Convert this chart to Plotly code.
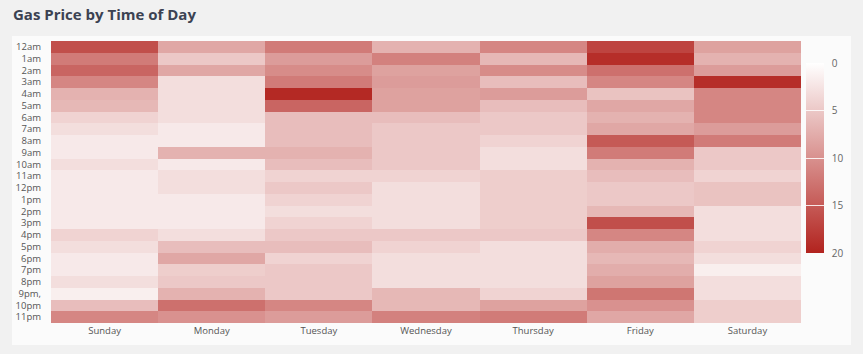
import plotly.graph_objects as go

days = ["Sunday", "Monday", "Tuesday", "Wednesday", "Thursday", "Friday", "Saturday"]
hours = ["12am", "1am", "2am", "3am", "4am", "5am", "6am", "7am", "8am", "9am", "10am", "11am",
         "12pm", "1pm", "2pm", "3pm", "4pm", "5pm", "6pm", "7pm", "8pm", "9pm,", "10pm", "11pm"]

sunday    = [16, 12, 14, 11, 7, 6.5, 4, 3, 2, 2, 3, 2, 2, 2, 2, 2, 4, 3, 2, 2, 3, 1.5, 6, 11]
monday    = [8, 5, 8, 3, 3, 3, 3, 2, 2, 7, 2, 3, 3, 2, 2, 2, 3, 6, 8, 4.5, 5, 7, 13, 10]
tuesday   = [12, 9, 10.5, 12, 19.5, 14, 6, 6, 6, 7, 6, 4, 5, 4, 3, 4, 5, 6, 4, 5, 5, 5, 11, 9]
wednesday = [7, 11.5, 8.5, 9, 8.5, 8.5, 6, 5, 5, 5, 5, 4, 3, 3, 3, 3, 5, 4, 3, 3, 3, 6.5, 6.5, 11.5]
thursday  = [11, 6.5, 10.5, 6, 9, 6, 5, 5, 4, 3, 3, 4.5, 4.5, 4.5, 4.5, 4.5, 5, 3, 3, 3, 3, 4, 8.5, 12]
friday    = [17, 19, 13, 11, 5.5, 8, 7, 8, 15, 12, 7, 6, 5, 5, 6.5, 16, 11, 7.5, 6.5, 7.5, 8.5, 12.5, 10, 8]
saturday  = [8.5, 7, 9, 19, 11, 11, 11, 9, 12, 5, 5, 4, 5.5, 5.5, 3, 3, 3, 4, 3, 1.5, 3, 3, 4.5, 4.5]

columns = [sunday, monday, tuesday, wednesday, thursday, friday, saturday]
# z[row=hour][col=day]
values = [[col[i] for col in columns] for i in range(len(hours))]
# negate so that 0 appears at the top of the colour bar
z_neg = [[-v for v in row] for row in values]

cb_ticks = [0, 5, 10, 15, 20]

W, H = 863, 354
L, R, T, B = 51, 62, 41, 31
pw, ph = W - L - R, H - T - B

def px_x(x):
    return (x - L) / pw

def px_y(y):
    return (H - B - y) / ph

fig = go.Figure(go.Heatmap(
    z=z_neg,
    x=days,
    y=hours,
    customdata=values,
    hovertemplate="%{x} %{y}: %{customdata}<extra></extra>",
    zmin=-20, zmax=0,
    colorscale=[[0, "#b2231e"], [1, "#ffffff"]],
    colorbar=dict(
        tickvals=[-t for t in cb_ticks],
        ticktext=["\u00a0\u00a0" + str(t) for t in cb_ticks],
        ticks="inside", ticklen=18, tickwidth=1, tickcolor="rgba(255,255,255,0.85)",
        thickness=18, thicknessmode="pixels",
        len=190 / ph, lenmode="fraction",
        x=px_x(806), xanchor="left", xpad=0,
        y=px_y(158), yanchor="middle", ypad=0,
        outlinewidth=0,
        tickfont=dict(family="Open Sans", size=10, color="#666666"),
    ),
))

fig.update_layout(
    width=W, height=H,
    margin=dict(l=L, r=R, t=T, b=B, pad=0, autoexpand=False),
    paper_bgcolor="#f1f1f1",
    plot_bgcolor="#ffffff",
    title=dict(text="<b>Gas Price by Time of Day</b>", x=13 / W, xanchor="left",
               y=1 - 15 / H, yanchor="middle",
               font=dict(family="Open Sans", size=15, color="#3b4252")),
    shapes=[dict(type="rect", xref="paper", yref="paper", layer="below",
                 x0=px_x(12), x1=px_x(851), y0=px_y(345), y1=px_y(36),
                 fillcolor="#fbfbfb", line=dict(width=0))],
    font=dict(family="Open Sans", size=10, color="#555555"),
)
fig.update_xaxes(showgrid=False, zeroline=False, ticks="", tickfont=dict(size=9.5, color="#555555"))
fig.update_yaxes(autorange="reversed", showgrid=False, zeroline=False, ticks="",
                 tickmode="array", tickvals=hours, ticktext=hours,
                 ticklabelstandoff=9, tickfont=dict(size=9.5, color="#555555"))

fig.write_html("out.html")
